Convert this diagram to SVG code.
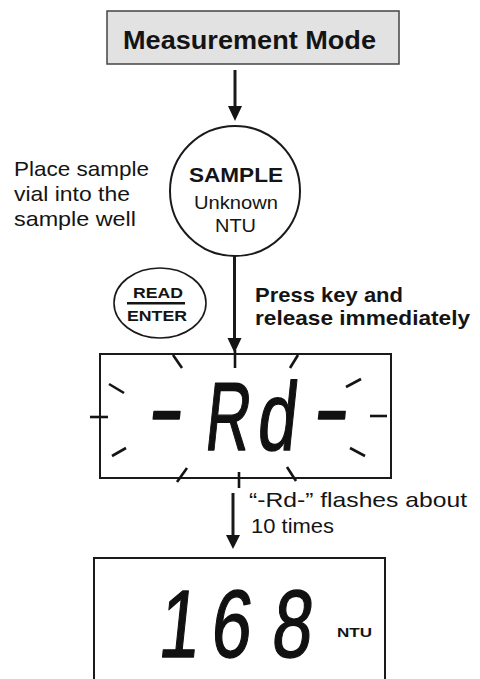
<svg xmlns="http://www.w3.org/2000/svg" width="480" height="679" viewBox="0 0 480 679">
<defs>
<style>
.t{font-family:"Liberation Sans",Arial,sans-serif;fill:#141414}
.b{font-weight:bold}
.ln{stroke:#1a1a1a;fill:none}
.ray{stroke:#141414;stroke-width:2.6;stroke-linecap:butt}
.ah{fill:#141414}
.lcd{font-family:"Liberation Sans",Arial,sans-serif;fill:#111;stroke:#111;stroke-width:1.4;stroke-linejoin:round}
</style>
</defs>
<rect width="480" height="679" fill="#ffffff"/>
<g id="measurement-mode">
<rect x="107" y="11" width="292" height="53" fill="#e2e2e2" stroke="#444" stroke-width="1.5"/>
<text class="t b" x="249.5" y="49" font-size="25" text-anchor="middle" textLength="253" lengthAdjust="spacingAndGlyphs">Measurement Mode</text>
</g>
<g id="place-note">
<text class="t" font-size="21"><tspan x="14" y="176" textLength="135" lengthAdjust="spacingAndGlyphs">Place sample</tspan><tspan x="14" y="201" textLength="116" lengthAdjust="spacingAndGlyphs">vial into the</tspan><tspan x="14" y="226" textLength="122" lengthAdjust="spacingAndGlyphs">sample well</tspan></text>
</g>
<g id="sample">
<circle cx="235" cy="191" r="65" fill="#fff" stroke="#1a1a1a" stroke-width="2"/>
<text class="t b" x="236" y="182" font-size="21" text-anchor="middle" textLength="94" lengthAdjust="spacingAndGlyphs">SAMPLE</text>
<text class="t" x="236" y="209" font-size="19" text-anchor="middle" textLength="84" lengthAdjust="spacingAndGlyphs">Unknown</text>
<text class="t" x="235.5" y="232" font-size="19" text-anchor="middle" textLength="41" lengthAdjust="spacingAndGlyphs">NTU</text>
</g>
<g id="read-enter-key">
<ellipse cx="160" cy="303" rx="46" ry="35" fill="#fff" stroke="#1a1a1a" stroke-width="1.6"/>
<text class="t b" x="158" y="298" font-size="15" text-anchor="middle" textLength="50" lengthAdjust="spacingAndGlyphs">READ</text>
<line x1="127" y1="303.3" x2="185" y2="303.3" stroke="#141414" stroke-width="2.6"/>
<text class="t b" x="157" y="321" font-size="15" text-anchor="middle" textLength="60" lengthAdjust="spacingAndGlyphs">ENTER</text>
</g>
<g id="press-note">
<text class="t b" font-size="21"><tspan x="255" y="302" textLength="148" lengthAdjust="spacingAndGlyphs">Press key and</tspan><tspan x="255" y="325" textLength="215" lengthAdjust="spacingAndGlyphs">release immediately</tspan></text>
</g>
<g id="lcd-rd">
<rect x="100" y="354" width="291" height="124" fill="none" stroke="#1a1a1a" stroke-width="2"/>
<g class="ray">
<line x1="235" y1="350" x2="235" y2="368"/>
<line x1="239" y1="472" x2="239" y2="488"/>
<line x1="90" y1="417" x2="108" y2="417"/>
<line x1="370" y1="416" x2="387" y2="416"/>
<line x1="173" y1="355" x2="182" y2="368"/>
<line x1="298" y1="355" x2="290" y2="368"/>
<line x1="109" y1="384" x2="124" y2="393"/>
<line x1="346" y1="387" x2="361" y2="379"/>
<line x1="112" y1="456" x2="126" y2="448"/>
<line x1="350" y1="448" x2="365" y2="456"/>
<line x1="187" y1="468" x2="177" y2="482"/>
<line x1="287" y1="467" x2="296" y2="481"/>
</g>
<text class="lcd" font-size="97" transform="translate(0,450) skewX(-6) scale(0.72,1)"><tspan x="201.9" y="-9.5" textLength="49" lengthAdjust="spacingAndGlyphs">-</tspan><tspan x="282.3" y="0" textLength="62" lengthAdjust="spacingAndGlyphs">R</tspan><tspan x="355" y="0">d</tspan><tspan x="431.1" y="-9.5" textLength="49" lengthAdjust="spacingAndGlyphs">-</tspan></text>
</g>
<g id="flash-note">
<text class="t" font-size="21"><tspan x="249" y="507" textLength="218" lengthAdjust="spacingAndGlyphs">“-Rd-” flashes about</tspan><tspan x="251" y="533" textLength="83" lengthAdjust="spacingAndGlyphs">10 times</tspan></text>
</g>
<g id="lcd-result">
<rect x="94" y="558" width="291" height="140" fill="none" stroke="#1a1a1a" stroke-width="2"/>
<text class="lcd" font-size="96" text-anchor="middle" transform="translate(0,657) skewX(-6) scale(0.75,1)"><tspan x="236">1</tspan><tspan x="305.3">6</tspan><tspan x="386.7">8</tspan></text>
<text class="t b" x="337" y="637" font-size="13" textLength="35" lengthAdjust="spacingAndGlyphs">NTU</text>
</g>
<g id="connectors">
<line class="ln" x1="235" y1="70" x2="235" y2="108" stroke-width="3"/>
<polygon class="ah" points="228,106 242,106 235,121"/>
<line class="ln" x1="234.5" y1="256" x2="234.5" y2="340" stroke-width="3"/>
<polygon class="ah" points="227.5,338 241.5,338 234.5,353"/>
<line class="ln" x1="233" y1="493" x2="233" y2="537" stroke-width="3"/>
<polygon class="ah" points="226,535 240,535 233,549"/>
</g>
</svg>
